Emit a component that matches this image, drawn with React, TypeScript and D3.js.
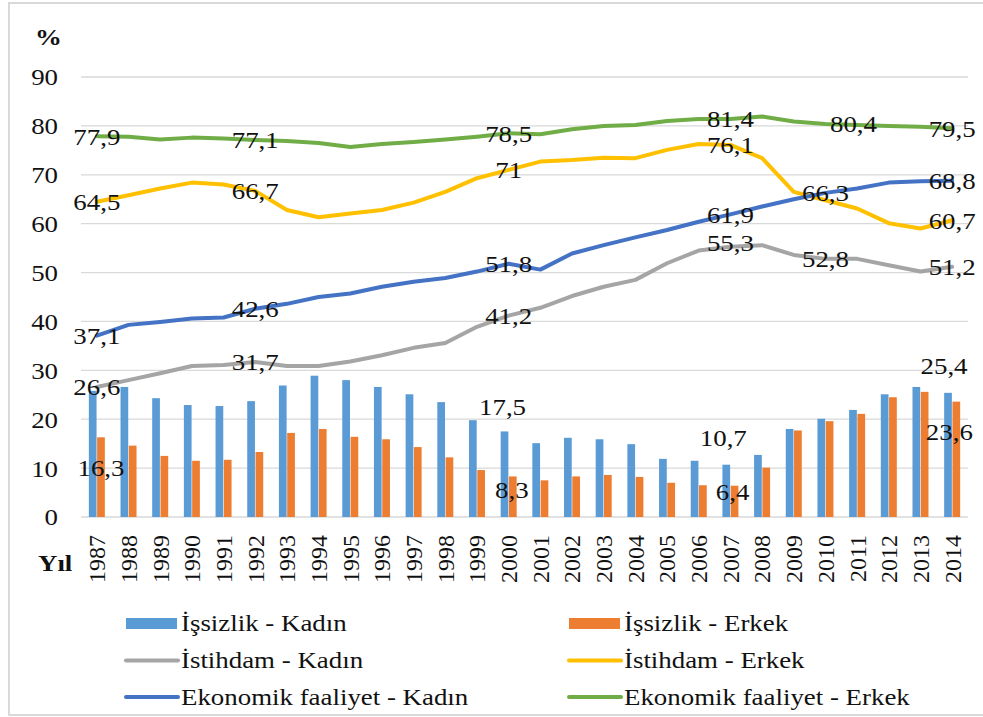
import React from 'react';
import * as d3 from 'd3';

const years = [
  '1987', '1988', '1989', '1990', '1991', '1992', '1993', '1994', '1995', '1996',
  '1997', '1998', '1999', '2000', '2001', '2002', '2003', '2004', '2005', '2006',
  '2007', '2008', '2009', '2010', '2011', '2012', '2013', '2014',
];

// İşsizlik (bars)
const unempFemale = [
  25.8, 26.6, 24.3, 22.9, 22.7, 23.7, 26.9, 28.9, 28.0, 26.6,
  25.1, 23.5, 19.8, 17.5, 15.1, 16.2, 15.9, 14.9, 11.9, 11.5,
  10.7, 12.7, 18.0, 20.1, 21.9, 25.1, 26.6, 25.4,
];
const unempMale = [
  16.3, 14.6, 12.5, 11.5, 11.7, 13.3, 17.2, 18.0, 16.4, 15.9,
  14.3, 12.2, 9.6, 8.3, 7.5, 8.3, 8.6, 8.2, 7.0, 6.5,
  6.4, 10.1, 17.7, 19.6, 21.1, 24.5, 25.6, 23.6,
];

// İstihdam (lines)
const emplFemale = [
  26.6, 28.0, 29.4, 30.9, 31.1, 31.7, 30.9, 30.9, 31.8, 33.1,
  34.6, 35.6, 38.9, 41.2, 42.8, 45.2, 47.1, 48.5, 51.9, 54.5,
  55.3, 55.6, 53.6, 52.8, 52.8, 51.5, 50.2, 51.2,
];
const emplMale = [
  64.5, 65.8, 67.2, 68.4, 68.0, 66.7, 62.8, 61.3, 62.1, 62.8,
  64.3, 66.5, 69.3, 71.0, 72.7, 73.0, 73.5, 73.4, 75.1, 76.3,
  76.1, 73.4, 66.5, 64.8, 63.1, 60.1, 59.0, 60.7,
];

// Ekonomik faaliyet (lines)
const activityFemale = [
  37.1, 39.3, 39.9, 40.6, 40.8, 42.6, 43.6, 45.0, 45.7, 47.1,
  48.1, 48.9, 50.2, 51.8, 50.6, 53.9, 55.6, 57.2, 58.7, 60.4,
  61.9, 63.5, 65.0, 66.3, 67.2, 68.4, 68.7, 68.8,
];
const activityMale = [
  77.9, 77.8, 77.2, 77.6, 77.4, 77.1, 76.9, 76.5, 75.7, 76.3,
  76.7, 77.2, 77.8, 78.5, 78.3, 79.3, 80.0, 80.2, 81.0, 81.4,
  81.4, 81.9, 80.9, 80.4, 80.2, 80.0, 79.8, 79.5,
];

const yTicks = [0, 10, 20, 30, 40, 50, 60, 70, 80, 90];

const barSeries = [
  { key: 'uf', name: 'İşsizlik - Kadın', color: '#5B9BD5', values: unempFemale },
  { key: 'um', name: 'İşsizlik - Erkek', color: '#ED7D31', values: unempMale },
];
const lineSeries = [
  { key: 'ef', name: 'İstihdam - Kadın', color: '#A5A5A5', values: emplFemale },
  { key: 'em', name: 'İstihdam - Erkek', color: '#FFC000', values: emplMale },
  { key: 'af', name: 'Ekonomik faaliyet - Kadın', color: '#4472C4', values: activityFemale },
  { key: 'am', name: 'Ekonomik faaliyet - Erkek', color: '#70AD47', values: activityMale },
];

// which points carry a data label
const lineLabelYears = ['1987', '1992', '2000', '2007', '2010', '2014'];
const barLabels = [
  { key: 'um', year: '1987' },
  { key: 'uf', year: '2000' },
  { key: 'um', year: '2000' },
  { key: 'uf', year: '2007' },
  { key: 'um', year: '2007' },
  { key: 'uf', year: '2014' },
  { key: 'um', year: '2014' },
];

const W = 983;
const H = 717;
const FONT = '"Liberation Serif", "Times New Roman", serif';
const SX = 1.12; // the source picture is a bit wider than tall

const fmt = (v: number) => (Number.isInteger(v) ? String(v) : v.toFixed(1).replace('.', ','));

function T({ x, y, text, anchor = 'middle', size = 24, weight = 'normal', dy = '0.35em' }: any) {
  return (
    <g transform={`translate(${x},${y}) scale(${SX},1)`}>
      <text textAnchor={anchor} dy={dy} fontSize={size} fontWeight={weight} fontFamily={FONT} fill="#111">
        {text}
      </text>
    </g>
  );
}

export default function App() {
  const x = d3.scaleBand<string>().domain(years).range([81, 968]).padding(0);
  const y = d3.scaleLinear().domain([0, 90]).range([517, 77]);
  const cx = (yr: string) => x(yr)! + x.bandwidth() / 2;
  const xs = d3.scaleBand<string>().domain(barSeries.map((s) => s.key)).range([-8, 8]).paddingInner(0.07);

  const line = d3
    .line<number>()
    .x((_, i) => cx(years[i]))
    .y((d) => y(d));

  // hand-placed label nudges, as in the source
  const lineLabelShift: Record<string, [number, number]> = {
    'am-2010': [28, 0],
    'ef-2007': [0, -4],
  };
  const barLabelShift: Record<string, [number, number]> = {
    'um-1987': [0, 30],
    'uf-2000': [-2, -25],
    'um-2000': [-1, 13],
    'uf-2007': [-3, -27],
    'um-2007': [-2, 6],
    'uf-2014': [-4, -27],
    'um-2014': [-7, 30],
  };

  const legendRows = [
    [barSeries[0], barSeries[1]],
    [lineSeries[0], lineSeries[1]],
    [lineSeries[2], lineSeries[3]],
  ];
  const legendCols = [126, 569];
  const legendY = [623.5, 660.5, 697];

  return (
    <div style={{ position: 'absolute', left: 0, top: 0 }}>
      <svg width={W} height={H} style={{ display: 'block', background: '#fff' }}>
        <rect x={9} y={3} width={990} height={712} fill="#fff" stroke="#d9d9d9" strokeWidth={2} />

        {/* grid */}
        {yTicks.map((t) => (
          <g key={t}>
            <line x1={81} x2={968} y1={y(t)} y2={y(t)} stroke="#d9d9d9" strokeWidth={1.3} />
            <T x={58} y={y(t)} text={String(t)} anchor="end" />
          </g>
        ))}

        <T x={35} y={45} text="%" anchor="start" weight="bold" dy={0} />
        <T x={38} y={571} text="Yıl" anchor="start" weight="bold" dy={0} />

        {/* bars */}
        {barSeries.map((s) =>
          s.values.map((v, i) => (
            <rect
              key={s.key + i}
              x={cx(years[i]) + xs(s.key)!}
              y={y(v)}
              width={xs.bandwidth()}
              height={y(0) - y(v)}
              fill={s.color}
            />
          ))
        )}

        {/* lines */}
        {lineSeries.map((s) => (
          <path
            key={s.key}
            d={line(s.values)!}
            fill="none"
            stroke={s.color}
            strokeWidth={4}
            strokeLinejoin="round"
            strokeLinecap="round"
          />
        ))}

        {/* year labels */}
        {years.map((yr) => (
          <text
            key={yr}
            transform={`translate(${cx(yr)},535) rotate(-90)`}
            textAnchor="end"
            dy="0.35em"
            fontSize={24}
            fontFamily={FONT}
            fill="#111"
          >
            {yr}
          </text>
        ))}

        {/* line data labels */}
        {lineSeries.map((s) =>
          lineLabelYears
            .filter((yr) => !(s.key === 'em' && yr === '2010'))
            .map((yr) => {
              const i = years.indexOf(yr);
              const [dx, dy] = lineLabelShift[`${s.key}-${yr}`] || [0, 0];
              return <T key={s.key + yr} x={cx(yr) + dx} y={y(s.values[i]) + dy} text={fmt(s.values[i])} />;
            })
        )}

        {/* bar data labels */}
        {barLabels.map(({ key, year }) => {
          const s = barSeries.find((b) => b.key === key)!;
          const i = years.indexOf(year);
          const [dx, dy] = barLabelShift[`${key}-${year}`] || [0, 0];
          const bx = cx(year) + xs(key)! + xs.bandwidth() / 2;
          return <T key={key + year} x={bx + dx} y={y(s.values[i]) + dy} text={fmt(s.values[i])} />;
        })}

        {/* legend */}
        {legendRows.map((row, r) =>
          row.map((s, c) => {
            const lx = legendCols[c];
            const ly = legendY[r];
            const isBar = r === 0;
            return (
              <g key={s.key}>
                {isBar ? (
                  <rect x={lx} y={ly - 5.5} width={51} height={11} fill={s.color} />
                ) : (
                  <line x1={lx} x2={lx + 52} y1={ly} y2={ly} stroke={s.color} strokeWidth={4} strokeLinecap="round" />
                )}
                <T x={lx + 55} y={ly} text={s.name} anchor="start" dy="0.33em" />
              </g>
            );
          })
        )}
      </svg>
    </div>
  );
}
